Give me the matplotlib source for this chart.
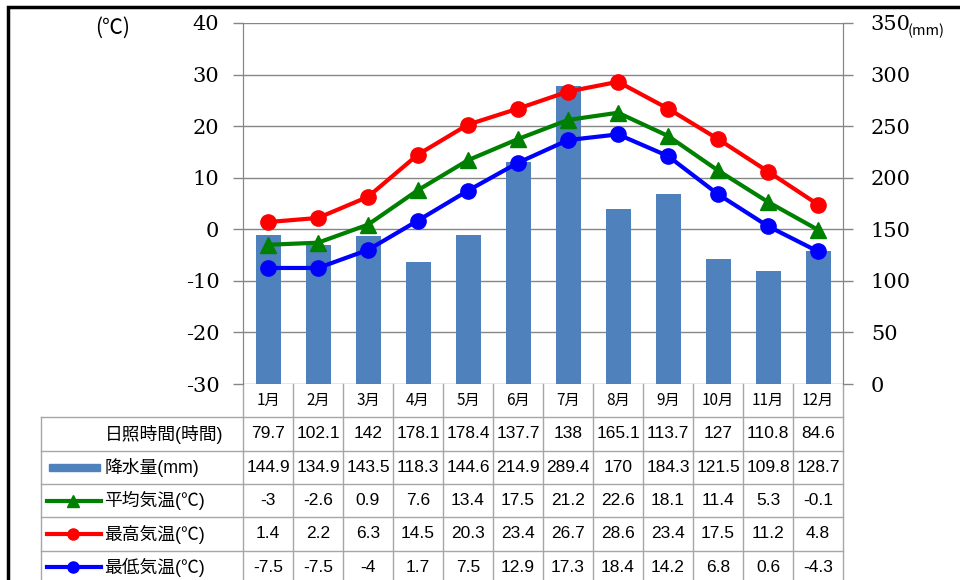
import matplotlib
matplotlib.use("Agg")
import matplotlib.pyplot as plt
from matplotlib.patches import Rectangle
from matplotlib.lines import Line2D

plt.rcParams["axes.unicode_minus"] = False

months = ["1月", "2月", "3月", "4月", "5月", "6月", "7月", "8月", "9月", "10月", "11月", "12月"]
sunshine = [79.7, 102.1, 142, 178.1, 178.4, 137.7, 138, 165.1, 113.7, 127, 110.8, 84.6]
precip = [144.9, 134.9, 143.5, 118.3, 144.6, 214.9, 289.4, 170, 184.3, 121.5, 109.8, 128.7]
t_avg = [-3, -2.6, 0.9, 7.6, 13.4, 17.5, 21.2, 22.6, 18.1, 11.4, 5.3, -0.1]
t_high = [1.4, 2.2, 6.3, 14.5, 20.3, 23.4, 26.7, 28.6, 23.4, 17.5, 11.2, 4.8]
t_low = [-7.5, -7.5, -4, 1.7, 7.5, 12.9, 17.3, 18.4, 14.2, 6.8, 0.6, -4.3]

row_labels = ["日照時間(時間)", "降水量(mm)", "平均気温(℃)", "最高気温(℃)", "最低気温(℃)"]

BAR = "#4F81BD"
GRID = "#868686"
TGRID = "#A6A6A6"
W, H = 960, 580
cjk = ["Noto Sans CJK JP", "DejaVu Sans"]
num = ["Liberation Sans", "Noto Sans CJK JP"]

fig = plt.figure(figsize=(9.6, 5.8), dpi=100)
x = list(range(12))

# main chart area (pixels 243..843, 23..384)
ax2 = fig.add_axes([243 / W, 1 - 384 / H, 600 / W, 361 / H])
ax1 = ax2.twinx()
ax2.yaxis.tick_right()
ax1.yaxis.tick_left()
ax1.set_zorder(ax2.get_zorder() + 1)
ax1.patch.set_visible(False)

ax2.bar(x, precip, width=0.5, color=BAR, zorder=2)
ax2.set_ylim(0, 350)
ax2.set_yticks(range(0, 351, 50))
ax2.set_xlim(-0.5, 11.5)
ax2.grid(axis="y", color=GRID, lw=1.0, zorder=0)
ax2.set_axisbelow(True)

ax1.plot(x, t_avg, color="#008000", lw=3, marker="^", ms=11, zorder=3)
ax1.plot(x, t_high, color="#FF0000", lw=3, marker="o", ms=11, zorder=3)
ax1.plot(x, t_low, color="#0000FF", lw=3, marker="o", ms=11, zorder=3)
ax1.set_ylim(-30, 40)
ax1.set_yticks(range(-30, 41, 10))
ax1.set_xlim(-0.5, 11.5)

for a in (ax1, ax2):
    a.set_xticks([])
    for s in ("top", "bottom"):
        a.spines[s].set_visible(False)
    a.spines["left"].set_color(GRID)
    a.spines["right"].set_color(GRID)
    a.tick_params(axis="y", length=7, width=1, color=GRID, labelsize=15)
ax1.tick_params(axis="y", pad=10)
ax2.tick_params(axis="y", pad=13)
for lab in ax1.get_yticklabels() + ax2.get_yticklabels():
    lab.set_family("DejaVu Serif")

ax1.text(-0.217, 0.986, "(℃)", transform=ax1.transAxes, ha="center", va="center",
         fontsize=15, family=cjk)
ax2.text(1.108, 0.978, "(mm)", transform=ax2.transAxes, ha="left", va="center",
         fontsize=10.5, family=cjk)

# data table under the chart
tab = fig.add_axes([41 / W, 1 - 584 / H, 802 / W, 200 / H])
tab.set_xlim((41 - 268) / 50, 11.5)
tab.set_ylim(6, 0)
tab.axis("off")
x0 = (41 - 268) / 50

for r in range(1, 7):
    tab.plot([x0, 11.5], [r, r], color=TGRID, lw=1, clip_on=False)
for k in range(13):
    tab.plot([k - 0.5, k - 0.5], [0, 6], color=TGRID, lw=1, clip_on=False)
tab.plot([x0, x0], [1, 6], color=TGRID, lw=1, clip_on=False)

for i, m in enumerate(months):
    tab.text(i, 0.5, m, ha="center", va="center", fontsize=11, family=cjk)

rows = [sunshine, precip, t_avg, t_high, t_low]
for r, vals in enumerate(rows):
    for i, v in enumerate(vals):
        tab.text(i, r + 1.5, "{:g}".format(v), ha="center", va="center",
                 fontsize=12.5, family=num)
    tab.text(-3.27, r + 1.5, row_labels[r], ha="left", va="center",
             fontsize=12.8, family=num)

# legend keys
tab.add_patch(Rectangle((-4.38, 2.4), 1.02, 0.2, color=BAR, clip_on=False))
keys = [("#008000", "^"), ("#FF0000", "o"), ("#0000FF", "o")]
for j, (c, mk) in enumerate(keys):
    yy = 3.5 + j
    tab.add_line(Line2D([-4.42, -3.34], [yy, yy], color=c, lw=3, clip_on=False))
    tab.add_line(Line2D([-3.9], [yy], color=c, marker=mk, ms=8, clip_on=False))

# outer frame
fig.add_artist(Rectangle((8 / W, -0.2), 1.2, 1 - 6.5 / H + 0.2, fill=False,
                         ec="black", lw=2.5, transform=fig.transFigure))

fig.savefig("out.png", dpi=100, facecolor="white")
